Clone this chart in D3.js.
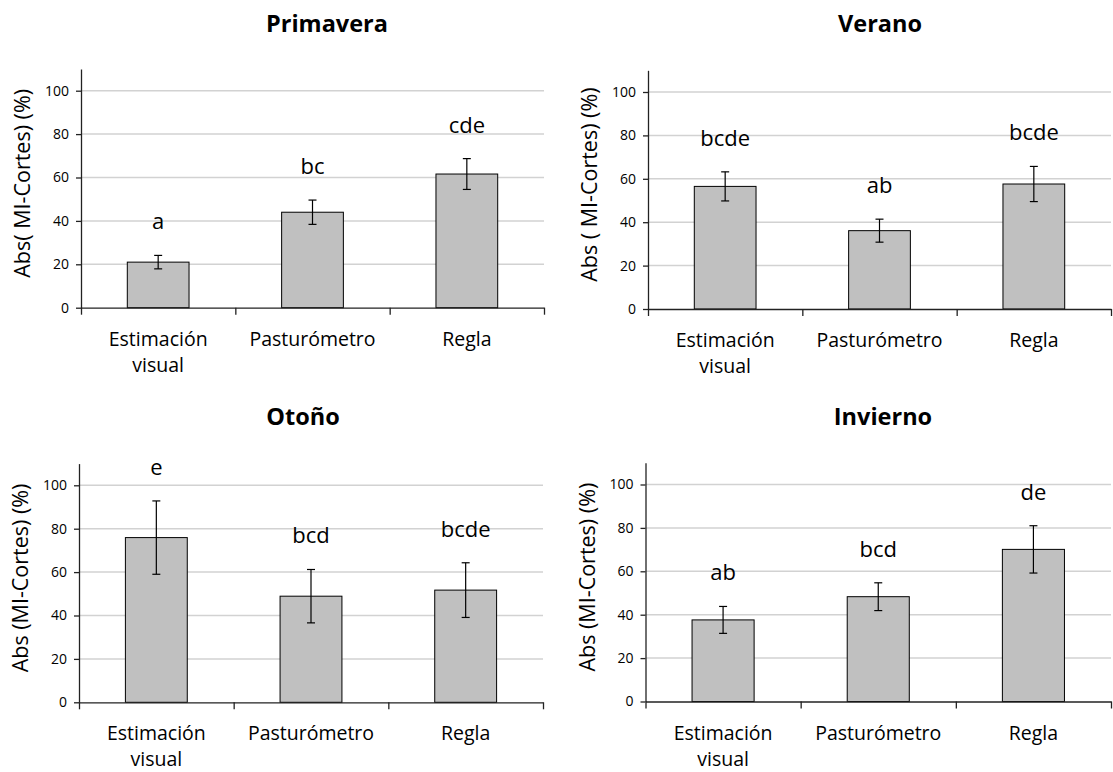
<!DOCTYPE html>
<html lang="es">
<head>
<meta charset="utf-8">
<title>Abs (MI-Cortes) por estación y método</title>
<script src="https://cdn.jsdelivr.net/npm/d3@7"></script>
<style>
  html, body { margin: 0; padding: 0; background: #fff; }
  svg { display: block; }
  text { font-family: "Open Sans", "Noto Sans", sans-serif; fill: #000; }
</style>
</head>
<body>
<svg id="chart" width="1113" height="772"></svg>
<script>
// Categories shared by every panel (each entry is the lines of its label)
const categories = [["Estimación", "visual"], ["Pasturómetro"], ["Regla"]];
const yTicks = [0, 20, 40, 60, 80, 100];
const yMax = 110;

// Mean absolute difference (%) and error bar half-width per season
const primaveraMeans   = [21.0, 44.0, 61.6];
const primaveraErrors  = [3.1, 5.6, 7.1];
const primaveraLetters = ["a", "bc", "cde"];

const veranoMeans   = [56.5, 36.1, 57.6];
const veranoErrors  = [6.7, 5.3, 8.1];
const veranoLetters = ["bcde", "ab", "bcde"];

const otonoMeans   = [75.9, 48.9, 51.7];
const otonoErrors  = [16.9, 12.3, 12.6];
const otonoLetters = ["e", "bcd", "bcde"];

const inviernoMeans   = [37.6, 48.3, 70.1];
const inviernoErrors  = [6.2, 6.4, 10.9];
const inviernoLetters = ["ab", "bcd", "de"];

// Panel layout: plot box edges, title centre and y-axis caption
const panels = [
  { title: "Primavera", ylabel: "Abs( MI-Cortes) (%)",  means: primaveraMeans, errors: primaveraErrors, letters: primaveraLetters,
    x0: 81,  x1: 544,  y0: 307.7, titleX: 327, titleY: 32 },
  { title: "Verano",    ylabel: "Abs ( MI-Cortes) (%)", means: veranoMeans,    errors: veranoErrors,    letters: veranoLetters,
    x0: 648, x1: 1111, y0: 309,   titleX: 880, titleY: 32 },
  { title: "Otoño",     ylabel: "Abs (MI-Cortes) (%)",  means: otonoMeans,     errors: otonoErrors,     letters: otonoLetters,
    x0: 79,  x1: 543,  y0: 702.3, titleX: 303, titleY: 425 },
  { title: "Invierno",  ylabel: "Abs (MI-Cortes) (%)",  means: inviernoMeans,  errors: inviernoErrors,  letters: inviernoLetters,
    x0: 645.5, x1: 1111, y0: 701.5, titleX: 883, titleY: 425 }
];
const pxPer100 = 217;

const svg = d3.select("#chart");

panels.forEach(p => {
  const yTop = p.y0 - pxPer100 * yMax / 100;
  const y = d3.scaleLinear().domain([0, yMax]).range([p.y0, yTop]);
  const x = d3.scaleBand().domain(d3.range(categories.length))
    .range([p.x0, p.x1]).paddingInner(0.6).paddingOuter(0.3);
  const xEdge = d3.scaleLinear().domain([0, categories.length]).range([p.x0, p.x1]);

  const g = svg.append("g");

  // Horizontal gridlines
  g.append("g").selectAll("line")
    .data(yTicks.filter(t => t > 0))
    .join("line")
    .attr("x1", p.x0).attr("x2", p.x1)
    .attr("y1", d => y(d)).attr("y2", d => y(d))
    .attr("stroke", "#d2d2d2").attr("stroke-width", 1.5);

  // Bars
  const rows = p.means.map((m, i) => ({ i, mean: m, err: p.errors[i], letter: p.letters[i] }));
  g.append("g").selectAll("rect")
    .data(rows)
    .join("rect")
    .attr("x", d => x(d.i)).attr("width", x.bandwidth())
    .attr("y", d => y(d.mean)).attr("height", d => y(0) - y(d.mean))
    .attr("fill", "#c0c0c0").attr("stroke", "#000").attr("stroke-width", 1);

  // Error bars
  const eb = g.append("g").attr("stroke", "#000").attr("stroke-width", 1.2);
  rows.forEach(d => {
    const cx = x(d.i) + x.bandwidth() / 2;
    eb.append("line").attr("x1", cx).attr("x2", cx)
      .attr("y1", y(d.mean + d.err)).attr("y2", y(d.mean - d.err));
    [d.mean + d.err, d.mean - d.err].forEach(v => {
      eb.append("line").attr("x1", cx - 4).attr("x2", cx + 4)
        .attr("y1", y(v)).attr("y2", y(v));
    });
  });

  // Significance letters
  g.append("g").selectAll("text")
    .data(rows)
    .join("text")
    .attr("x", d => x(d.i) + x.bandwidth() / 2)
    .attr("y", d => y(d.mean + d.err) - 26)
    .attr("text-anchor", "middle")
    .style("font-size", "22px")
    .text(d => d.letter);

  // Y axis
  const yAxis = g.append("g")
    .attr("transform", `translate(${p.x0},0)`)
    .call(d3.axisLeft(y).tickValues(yTicks).tickSize(5).tickSizeOuter(0).tickPadding(7));
  yAxis.select(".domain").attr("stroke", "#222").attr("stroke-width", 1.3);
  yAxis.selectAll(".tick line").attr("stroke", "#222").attr("stroke-width", 1.3);
  yAxis.selectAll(".tick text").style("font-size", "14px").style("font-family", "'Open Sans', sans-serif").attr("fill", "#000");

  // X axis with ticks at the category boundaries
  const xAxis = g.append("g")
    .attr("transform", `translate(0,${p.y0})`)
    .call(d3.axisBottom(xEdge).tickValues(d3.range(categories.length + 1)).tickSize(7).tickSizeOuter(0).tickFormat(""));
  xAxis.select(".domain").attr("stroke", "#222").attr("stroke-width", 1.3);
  xAxis.selectAll(".tick line").attr("stroke", "#222").attr("stroke-width", 1.3);

  // Category labels
  const cat = g.append("g").selectAll("text")
    .data(categories)
    .join("text")
    .attr("text-anchor", "middle")
    .style("font-size", "19.5px")
    .attr("transform", (d, i) => `translate(${x(i) + x.bandwidth() / 2},${p.y0 + 38})`);
  cat.selectAll("tspan")
    .data(d => d)
    .join("tspan")
    .attr("x", 0)
    .attr("dy", (d, j) => j === 0 ? 0 : 26)
    .text(d => d);

  // Y axis caption
  g.append("text")
    .attr("transform", `translate(${p.x0 - 51},${(p.y0 + yTop) / 2 - 5}) rotate(-90)`)
    .attr("text-anchor", "middle")
    .style("font-size", "21.5px")
    .text(p.ylabel);

  // Panel title
  g.append("text")
    .attr("x", p.titleX).attr("y", p.titleY)
    .attr("text-anchor", "middle")
    .style("font-size", "23.5px").style("font-weight", "700")
    .text(p.title);
});
</script>
</body>
</html>
